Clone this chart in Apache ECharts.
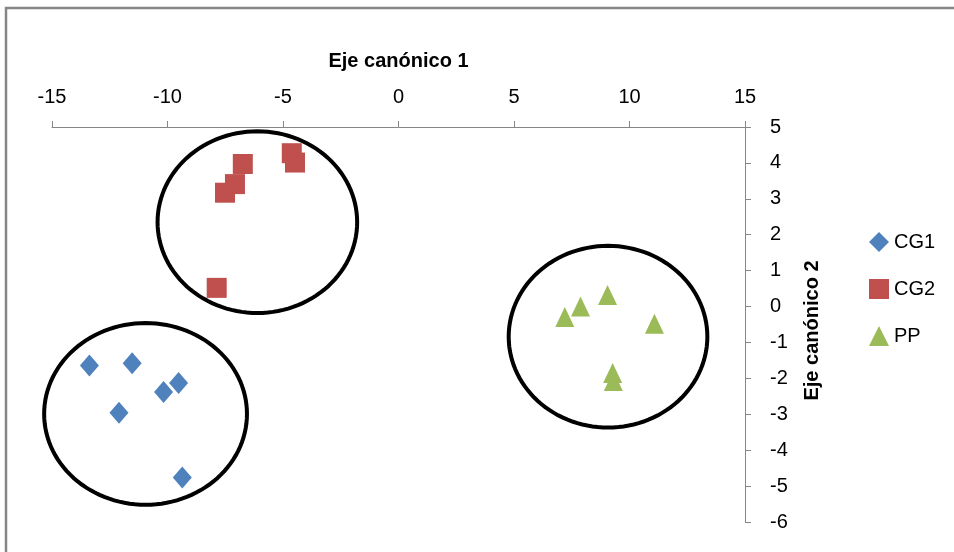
<!DOCTYPE html>
<html>
<head>
<meta charset="utf-8">
<script src="https://cdn.jsdelivr.net/npm/echarts@6/dist/echarts.min.js"></script>
<style>
  html, body { margin: 0; padding: 0; background: #fff; }
  #chart { width: 954px; height: 552px; }
</style>
</head>
<body>
<div id="chart"></div>
<script>
// Canonical discriminant scores per group: [axis 1, axis 2]
const cg1Points = [
  [-13.38, -1.64], [-11.53, -1.58], [-12.1, -2.96],
  [-10.17, -2.38], [-9.52, -2.13], [-9.36, -4.76]
];
const cg2Points = [
  [-6.74, 3.97], [-7.08, 3.41], [-7.51, 3.17],
  [-4.62, 4.27], [-4.48, 4.01], [-7.87, 0.52]
];
const ppPoints = [
  [9.05, 0.32], [7.88, 0.0], [7.2, -0.29],
  [11.08, -0.48], [9.27, -1.85], [9.3, -2.07]
];
// Group enclosures: [centre x, centre y, radius x, radius y] in axis units
const groupEllipses = [
  [-10.95, -2.99, 4.39, 2.53],
  [-6.11, 2.35, 4.32, 2.53],
  [9.07, -0.84, 4.3, 2.53]
];
const seriesNames = ['CG1', 'CG2', 'PP'];
const xAxisName = 'Eje canónico 1';
const yAxisName = 'Eje canónico 2';

const FONT = '"Liberation Sans", Arial, sans-serif';
const AXIS_GRAY = '#868686';

const chart = echarts.init(document.getElementById('chart'), null, { renderer: 'canvas' });

function ellipseItem(params, api) {
  const cx = api.value(0), cy = api.value(1), rx = api.value(2), ry = api.value(3);
  const pts = [];
  const n = 120;
  for (let i = 0; i < n; i++) {
    const t = (i / n) * Math.PI * 2;
    pts.push(api.coord([cx + rx * Math.cos(t), cy + ry * Math.sin(t)]));
  }
  return {
    type: 'polygon',
    shape: { points: pts },
    style: { fill: 'none', stroke: '#000', lineWidth: 4 },
    silent: true
  };
}

const option = {
  backgroundColor: '#fff',
  animation: false,
  textStyle: { fontFamily: FONT },
  graphic: [{
    type: 'rect',
    shape: { x: 6, y: 8, width: 1000, height: 600 },
    style: { fill: 'none', stroke: AXIS_GRAY, lineWidth: 2.5 },
    silent: true
  }],
  grid: { left: 52, top: 127, width: 693, height: 395 },
  legend: {
    orient: 'vertical',
    left: 864,
    top: 227,
    itemWidth: 20,
    itemHeight: 20,
    itemGap: 27,
    data: seriesNames,
    textStyle: { fontFamily: FONT, fontSize: 20, color: '#000' }
  },
  xAxis: {
    type: 'value',
    position: 'top',
    min: -15, max: 15, interval: 5,
    name: xAxisName,
    nameLocation: 'middle',
    nameGap: 56,
    nameTextStyle: { fontFamily: FONT, fontSize: 20, fontWeight: 'bold', color: '#000' },
    axisLine: { show: true, onZero: false, lineStyle: { color: AXIS_GRAY, width: 1 } },
    axisTick: { show: true, inside: false, length: 6, lineStyle: { color: AXIS_GRAY } },
    axisLabel: { margin: 20, fontFamily: FONT, fontSize: 20, color: '#000' },
    splitLine: { show: false }
  },
  yAxis: {
    type: 'value',
    position: 'right',
    min: -6, max: 5, interval: 1,
    name: yAxisName,
    nameLocation: 'middle',
    nameRotate: 90,
    nameGap: 57,
    nameTextStyle: { fontFamily: FONT, fontSize: 20, fontWeight: 'bold', color: '#000', padding: [0, 12, 0, 0] },
    axisLine: { show: true, onZero: false, lineStyle: { color: AXIS_GRAY, width: 1 } },
    axisTick: { show: true, inside: false, length: 6, lineStyle: { color: AXIS_GRAY } },
    axisLabel: { margin: 25, fontFamily: FONT, fontSize: 20, color: '#000' },
    splitLine: { show: false }
  },
  series: [
    {
      name: 'CG1', type: 'scatter', data: cg1Points,
      symbol: 'diamond', symbolSize: [19, 22],
      itemStyle: { color: '#4F81BD', opacity: 1 }, z: 3
    },
    {
      name: 'CG2', type: 'scatter', data: cg2Points,
      symbol: 'rect', symbolSize: 20,
      itemStyle: { color: '#C0504D', opacity: 1 }, z: 3
    },
    {
      name: 'PP', type: 'scatter', data: ppPoints,
      symbol: 'triangle', symbolSize: [19, 20],
      itemStyle: { color: '#9BBB59', opacity: 1 }, z: 3
    },
    {
      name: 'grupos', type: 'custom', data: groupEllipses,
      renderItem: ellipseItem,
      encode: { x: 0, y: 1 },
      silent: true, z: 4
    }
  ]
};

chart.setOption(option);
</script>
</body>
</html>
